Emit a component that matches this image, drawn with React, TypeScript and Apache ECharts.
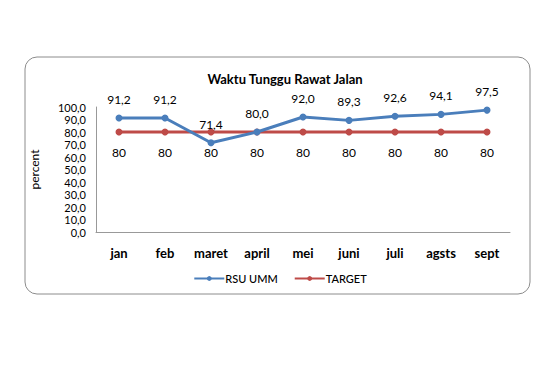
import React, { useEffect, useRef } from "react";
import * as echarts from "echarts";

const categories = ["jan", "feb", "maret", "april", "mei", "juni", "juli", "agsts", "sept"];
const rsuUmm = [91.2, 91.2, 71.4, 80.0, 92.0, 89.3, 92.6, 94.1, 97.5];
const target = [80, 80, 80, 80, 80, 80, 80, 80, 80];

const FONT = "Lato, 'Open Sans', sans-serif";
const fmt1 = (v: number) => v.toFixed(1).replace(".", ",");

export default function App() {
  const ref = useRef<HTMLDivElement>(null);
  useEffect(() => {
    if (!ref.current) return;
    const chart = echarts.init(ref.current, undefined, { renderer: "svg" });
    chart.setOption({
      animation: false,
      backgroundColor: "#ffffff",
      textStyle: { fontFamily: FONT },
      graphic: [
        {
          type: "rect",
          shape: { x: 25, y: 57, width: 505, height: 237, r: 12 },
          style: { fill: "none", stroke: "#8c8c8c", lineWidth: 1 },
          silent: true,
        },
      ],
      title: {
        text: "Waktu Tunggu Rawat Jalan",
        left: 280,
        textAlign: "center",
        top: 67,
        textStyle: { fontFamily: FONT, fontSize: 13, fontWeight: "bold", color: "#000" },
      },
      legend: {
        top: 268,
        left: "center",
        itemWidth: 30,
        itemHeight: 6,
        itemGap: 16,
        textStyle: { fontFamily: FONT, fontSize: 11, fontWeight: 500, color: "#000", padding: [0, 0, 0, -4] },
        data: ["RSU UMM", "TARGET"],
      },
      grid: { left: 96, right: 50, top: 107, bottom: 138 },
      xAxis: {
        type: "category",
        data: categories,
        axisLine: { lineStyle: { color: "#999" } },
        axisTick: { show: false },
        axisLabel: { fontFamily: FONT, fontSize: 13, fontWeight: "bold", color: "#000", margin: 14 },
      },
      yAxis: {
        type: "value",
        min: 0,
        max: 100,
        interval: 10,
        name: "percent",
        nameLocation: "middle",
        nameRotate: 90,
        nameGap: 56,
        nameTextStyle: { fontFamily: FONT, fontSize: 12, color: "#000" },
        axisLine: { show: true, lineStyle: { color: "#999" } },
        axisTick: { show: false },
        splitLine: { show: false },
        axisLabel: {
          fontFamily: FONT,
          fontSize: 11,
          lineHeight: 11,
          color: "#000",
          margin: 10,
          formatter: (v: number) => fmt1(v),
        },
      },
      series: [
        {
          name: "RSU UMM",
          type: "line",
          data: rsuUmm,
          color: "#4A7EBB",
          lineStyle: { width: 3, color: "#4A7EBB" },
          symbol: "circle",
          symbolSize: 7,
          z: 3,
          label: {
            show: true,
            position: "top",
            distance: 9,
            fontFamily: FONT,
            fontSize: 12,
            color: "#000",
            formatter: (p: any) => fmt1(p.value),
          },
        },
        {
          name: "TARGET",
          type: "line",
          data: target,
          color: "#BE4B48",
          lineStyle: { width: 3, color: "#BE4B48" },
          symbol: "circle",
          symbolSize: 7,
          z: 2,
          label: {
            show: true,
            position: "bottom",
            distance: 11,
            fontFamily: FONT,
            fontSize: 12,
            color: "#000",
            formatter: (p: any) => String(p.value),
          },
        },
      ],
    });
    return () => chart.dispose();
  }, []);
  return (
    <div
      ref={ref}
      style={{ position: "fixed", left: 0, top: 0, width: 560, height: 370 }}
    />
  );
}
